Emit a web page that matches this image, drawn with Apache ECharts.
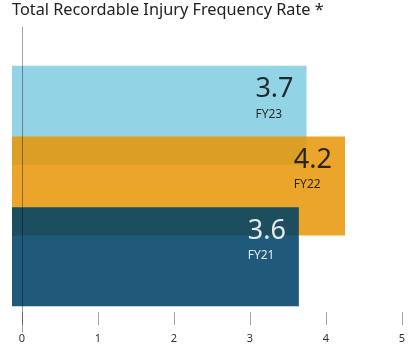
<!DOCTYPE html>
<html>
<head>
<meta charset="utf-8">
<script src="https://cdn.jsdelivr.net/npm/echarts@6/dist/echarts.min.js"></script>
<style>
  html, body { margin: 0; padding: 0; background: #fff; }
  #chart { width: 408px; height: 344px; }
</style>
</head>
<body>
<div id="chart"></div>
<script>
// Injury frequency rate per fiscal year (top to bottom)
const years = ['FY23', 'FY22', 'FY21'];
const rates = [3.7, 4.2, 3.6];

// Styling, kept apart from the data
const barColors = ['#84cde3', '#e7980d', '#004369'];
const labelColors = ['#111111', '#111111', '#ffffff'];
const FONT = '"Noto Sans", "Open Sans", sans-serif';
const BAR_LEAD = -0.13; // short run of each bar drawn left of the zero line

const chart = echarts.init(document.getElementById('chart'), null, { renderer: 'canvas' });

const mainData = rates.map((v, i) => ({
  value: v,
  itemStyle: { color: barColors[i], opacity: 0.88 },
  label: { color: labelColors[i] }
}));
const leadData = rates.map((v, i) => ({
  value: BAR_LEAD,
  itemStyle: { color: barColors[i], opacity: 0.88 }
}));

chart.setOption({
  animation: false,
  title: {
    text: 'Total Recordable Injury Frequency Rate *',
    left: 12,
    top: 1,
    padding: 0,
    textStyle: { fontFamily: FONT, fontSize: 16.3, fontWeight: 'normal', color: '#222', lineHeight: 18 }
  },
  grid: [
    { left: 22, right: 1.5, top: 27, bottom: 11 },
    { left: 22, right: 1.5, top: 79.75, bottom: 51.75 }
  ],
  xAxis: [
    {
      gridIndex: 0, type: 'value', min: 0, max: 5, interval: 1,
      offset: -7,
      axisLine: { show: false },
      axisTick: { show: true, inside: true, length: 13, lineStyle: { color: '#a4a4a4', width: 1 } },
      splitLine: { show: false },
      axisLabel: { color: '#333', fontFamily: FONT, fontSize: 11, margin: 8 }
    },
    {
      gridIndex: 1, type: 'value', min: 0, max: 5, show: false
    }
  ],
  yAxis: [
    {
      gridIndex: 0, type: 'value', min: 0, max: 1, z: 5,
      axisLine: { show: true, lineStyle: { color: 'rgba(0,0,0,0.36)', width: 1 } },
      axisTick: { show: false }, axisLabel: { show: false }, splitLine: { show: false }
    },
    {
      gridIndex: 1, type: 'category', data: years, inverse: true, show: false
    }
  ],
  series: [
    {
      type: 'bar', name: 'lead', xAxisIndex: 1, yAxisIndex: 1, stack: 'rate',
      barWidth: 99, data: leadData, silent: true, clip: false
    },
    {
      type: 'bar', name: 'rate', xAxisIndex: 1, yAxisIndex: 1, stack: 'rate',
      barWidth: 99, data: mainData, clip: false,
      label: {
        show: true,
        position: 'insideRight',
        distance: 13,
        offset: [0, -18],
        fontFamily: FONT,
        formatter: p => '{v|' + p.value + '}\n{n|' + p.name + '}',
        rich: {
          v: { fontFamily: FONT, fontSize: 27, lineHeight: 34, align: 'left' },
          n: { fontFamily: FONT, fontSize: 12, lineHeight: 16, align: 'left' }
        }
      }
    }
  ]
});
</script>
</body>
</html>
